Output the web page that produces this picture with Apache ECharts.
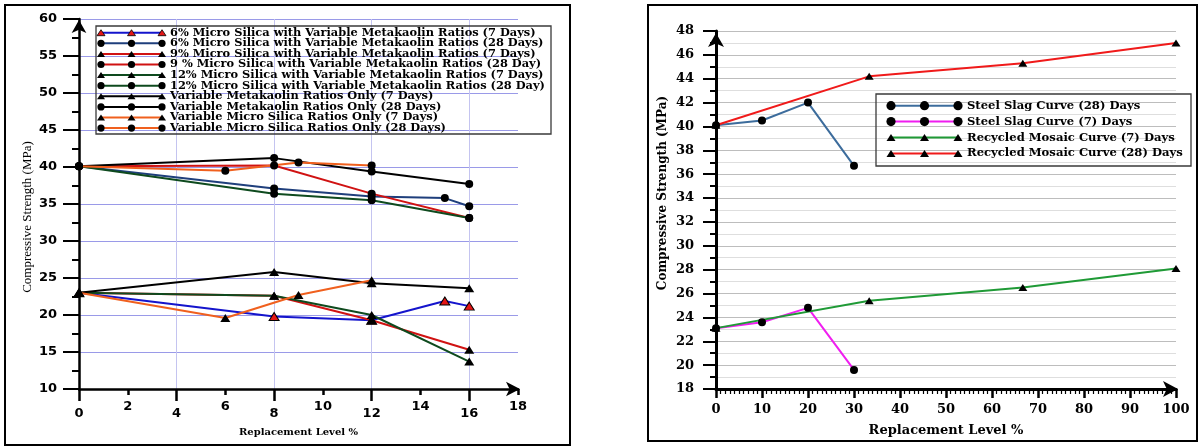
<!DOCTYPE html>
<html>
<head>
<meta charset="utf-8">
<script src="https://cdn.jsdelivr.net/npm/echarts@6/dist/echarts.min.js"></script>
<style>
  html, body { margin: 0; padding: 0; background: #ffffff; }
  #chart { width: 1201px; height: 448px; }
</style>
</head>
<body>
<div id="chart"></div>
<script>
// ---------- Left panel: micro silica / metakaolin mixes (strength in MPa) ----------
const levels6 = [0, 8, 12, 15, 16];
const ms6Day7 = [23.0, 19.8, 19.3, 21.9, 21.2];
const ms6Day28 = [40.1, 37.1, 36.0, 35.8, 34.7];

const levelsMK = [0, 8, 12, 16];
const ms9Day7 = [23.0, 22.6, 19.3, 15.3];
const ms9Day28 = [40.1, 40.2, 36.4, 33.1];
const ms12Day7 = [23.0, 22.6, 20.0, 13.7];
const ms12Day28 = [40.1, 36.4, 35.5, 33.1];
const mkOnlyDay7 = [23.0, 25.8, 24.3, 23.6];
const mkOnlyDay28 = [40.1, 41.2, 39.4, 37.7];

const levelsMS = [0, 6, 9, 12];
const msOnlyDay7 = [23.0, 19.6, 22.7, 24.7];
const msOnlyDay28 = [40.1, 39.5, 40.6, 40.2];

const leftNames = [
  '6% Micro Silica with Variable Metakaolin Ratios (7 Days)',
  '6% Micro Silica with Variable Metakaolin Ratios (28 Days)',
  '9% Micro Silica with Variable Metakaolin Ratios (7 Days)',
  '9 % Micro Silica with Variable Metakaolin Ratios (28 Day)',
  '12% Micro Silica with Variable Metakaolin Ratios (7 Days)',
  '12% Micro Silica with Variable Metakaolin Ratios (28 Day)',
  'Variable Metakaolin Ratios Only (7 Days)',
  'Variable Metakaolin Ratios Only (28 Days)',
  'Variable Micro Silica Ratios Only (7 Days)',
  'Variable Micro Silica Ratios Only (28 Days)'
];
const leftX = [levels6, levels6, levelsMK, levelsMK, levelsMK, levelsMK, levelsMK, levelsMK, levelsMS, levelsMS];
const leftY = [ms6Day7, ms6Day28, ms9Day7, ms9Day28, ms12Day7, ms12Day28, mkOnlyDay7, mkOnlyDay28, msOnlyDay7, msOnlyDay28];

// ---------- Right panel: steel slag / recycled mosaic ----------
const slagLevels = [0, 10, 20, 30];
const slagDay28 = [40.1, 40.5, 42.0, 36.7];
const slagDay7 = [23.1, 23.6, 24.8, 19.6];
const mosaicLevels = [0, 33.3, 66.7, 100];
const mosaicDay7 = [23.1, 25.4, 26.5, 28.1];
const mosaicDay28 = [40.1, 44.2, 45.3, 47.0];

const rightNames = [
  'Steel Slag Curve (28) Days',
  'Steel Slag Curve (7) Days',
  'Recycled Mosaic Curve (7) Days',
  'Recycled Mosaic Curve (28) Days'
];
const rightX = [slagLevels, slagLevels, mosaicLevels, mosaicLevels];
const rightY = [slagDay28, slagDay7, mosaicDay7, mosaicDay28];

// ---------- styling ----------
const leftStyle = [
  { line: '#1414cc', mark: 'triangle', fill: '#e41616' },
  { line: '#1f3f7c', mark: 'circle', fill: '#000000' },
  { line: '#d01212', mark: 'triangle', fill: '#000000' },
  { line: '#d01212', mark: 'circle', fill: '#000000' },
  { line: '#0e4a1e', mark: 'triangle', fill: '#000000' },
  { line: '#0e4a1e', mark: 'circle', fill: '#000000' },
  { line: '#000000', mark: 'triangle', fill: '#000000' },
  { line: '#000000', mark: 'circle', fill: '#000000' },
  { line: '#f0601e', mark: 'triangle', fill: '#000000' },
  { line: '#f0601e', mark: 'circle', fill: '#000000' }
];
const rightStyle = [
  { line: '#3c6c9c', mark: 'circle', fill: '#000000' },
  { line: '#f01ef0', mark: 'circle', fill: '#000000' },
  { line: '#1f9a36', mark: 'triangle', fill: '#000000' },
  { line: '#f01a1a', mark: 'triangle', fill: '#000000' }
];

const SERIF = '"DejaVu Serif", "Liberation Serif", serif';
const SANS = '"DejaVu Sans", "Liberation Sans", sans-serif';
const GRID_BLUE = '#9a9ae8';

function pairs(xs, ys) { return xs.map((x, i) => [x, ys[i]]); }

function makeSeries(names, xs, ys, styles, axisIndex, circleSize, triSize) {
  return names.map((name, i) => {
    const s = styles[i];
    return {
      name: name,
      type: 'line',
      xAxisIndex: axisIndex,
      yAxisIndex: axisIndex,
      data: pairs(xs[i], ys[i]),
      symbol: s.mark,
      symbolSize: s.mark === 'circle' ? circleSize : triSize,
      lineStyle: { color: s.line, width: 2 },
      itemStyle: {
        color: s.fill,
        borderColor: '#000000',
        borderWidth: s.fill === '#000000' ? 0 : 1
      },
      emphasis: { disabled: true },
      z: 3
    };
  });
}

// Legend swatches: a line with three markers followed by the entry text
function legendGraphics(names, styles, o) {
  const els = [];
  els.push({
    type: 'rect', silent: true, z: 10,
    shape: { x: o.bx, y: o.by, width: o.bw, height: o.bh },
    style: { fill: 'rgba(255,255,255,0)', stroke: '#3a3a3a', lineWidth: 1.3 }
  });
  names.forEach((name, i) => {
    const y = o.y0 + i * o.step;
    const s = styles[i];
    els.push({
      type: 'line', silent: true, z: 10,
      shape: { x1: o.x0, y1: y, x2: o.x0 + o.w, y2: y },
      style: { stroke: s.line, lineWidth: 2 }
    });
    [0, 0.5, 1].forEach(f => {
      const cx = o.x0 + f * o.w;
      if (s.mark === 'circle') {
        els.push({ type: 'circle', silent: true, z: 11, shape: { cx: cx, cy: y, r: o.r }, style: { fill: s.fill } });
      } else {
        els.push({
          type: 'polygon', silent: true, z: 11,
          shape: { points: [[cx - o.tw / 2, y + o.th / 2], [cx + o.tw / 2, y + o.th / 2], [cx, y - o.th / 2]] },
          style: { fill: s.fill, stroke: '#000000', lineWidth: s.fill === '#000000' ? 0 : 0.8 }
        });
      }
    });
    els.push({
      type: 'text', silent: true, z: 11, x: o.tx, y: y,
      style: { text: name, font: o.font, fill: '#000000', align: 'left', verticalAlign: 'middle' }
    });
  });
  return els;
}

const leftGrid = { left: 79, top: 19, width: 439, height: 370 };
const rightGrid = { left: 716, top: 31, width: 460, height: 358 };

const option = {
  animation: false,
  backgroundColor: '#ffffff',
  grid: [
    leftGrid,
    { left: 79, top: 19, width: 439 * 16 / 18, height: 370 },
    rightGrid
  ],
  xAxis: [
    {
      gridIndex: 0, type: 'value', min: 0, max: 18, interval: 2,
      axisLine: {
        onZero: false, symbol: ['none', 'arrow'], symbolSize: [11, 14], symbolOffset: [0, 2],
        lineStyle: { color: '#000000', width: 2.5 }
      },
      axisTick: { length: 6, lineStyle: { color: '#000000', width: 2.5 } },
      splitLine: { show: false },
      axisLabel: {
        margin: 11,
        formatter: v => (v % 4 === 0 ? '{lo|' + v + '}' : '{hi|' + v + '}'),
        rich: {
          lo: { fontFamily: SANS, fontWeight: 'bold', fontSize: 13, color: '#000', padding: [7, 0, 0, 0] },
          hi: { fontFamily: SANS, fontWeight: 'bold', fontSize: 13, color: '#000' }
        }
      },
      name: 'Replacement Level %', nameLocation: 'middle', nameGap: 38,
      nameTextStyle: { fontFamily: SERIF, fontWeight: 'bold', fontSize: 10, color: '#000' }
    },
    {
      gridIndex: 1, type: 'value', min: 0, max: 16, interval: 4,
      axisLine: { show: false },
      axisTick: { length: 12, lineStyle: { color: '#000000', width: 2.5 } },
      axisLabel: { show: false },
      splitLine: { show: true, lineStyle: { color: '#c4c4f0', width: 1 } }
    },
    {
      gridIndex: 2, type: 'value', min: 0, max: 100, interval: 10,
      axisLine: {
        onZero: false, symbol: ['none', 'arrow'], symbolSize: [12, 15], symbolOffset: [0, 2],
        lineStyle: { color: '#000000', width: 3 }
      },
      axisTick: { length: 9, lineStyle: { color: '#000000', width: 2.5 } },
      minorTick: { show: true, splitNumber: 10, length: 5, lineStyle: { color: '#000000', width: 1.2 } },
      splitLine: { show: false },
      axisLabel: { margin: 14, fontFamily: SERIF, fontWeight: 'bold', fontSize: 13, color: '#000' },
      name: 'Replacement Level %', nameLocation: 'middle', nameGap: 35,
      nameTextStyle: { fontFamily: SERIF, fontWeight: 'bold', fontSize: 13, color: '#000' }
    }
  ],
  yAxis: [
    {
      gridIndex: 0, type: 'value', min: 10, max: 60, interval: 5,
      axisLine: {
        onZero: false, symbol: ['none', 'arrow'], symbolSize: [11, 13], symbolOffset: [0, -1],
        lineStyle: { color: '#000000', width: 2.5 }
      },
      axisTick: { length: 16, lineStyle: { color: '#000000', width: 2 } },
      minorTick: { show: true, splitNumber: 2, length: 7, lineStyle: { color: '#000000', width: 2 } },
      splitLine: { show: true, lineStyle: { color: GRID_BLUE, width: 1 } },
      axisLabel: { margin: 22, fontFamily: SANS, fontWeight: 'bold', fontSize: 13, color: '#000' },
      name: 'Compressive Strength (MPa)', nameLocation: 'middle', nameGap: 45,
      nameTextStyle: { fontFamily: '"Liberation Serif", serif', fontSize: 13, color: '#000', padding: [0, 26, 0, 0] }
    },
    {
      gridIndex: 1, type: 'value', min: 10, max: 60, show: false
    },
    {
      gridIndex: 2, type: 'value', min: 18, max: 48, interval: 2,
      axisLine: {
        onZero: false, symbol: ['none', 'arrow'], symbolSize: [12, 14], symbolOffset: [0, -2],
        lineStyle: { color: '#000000', width: 3 }
      },
      axisTick: { length: 13, lineStyle: { color: '#000000', width: 2 } },
      minorTick: { show: true, splitNumber: 2, length: 6, lineStyle: { color: '#000000', width: 2 } },
      splitLine: { show: true, lineStyle: { color: '#bdbdbd', width: 1 } },
      minorSplitLine: { show: true, lineStyle: { color: '#dedede', width: 1 } },
      axisLabel: { margin: 22, fontFamily: SERIF, fontWeight: 'bold', fontSize: 13, color: '#000' },
      name: 'Compressive Strength (MPa)', nameLocation: 'middle', nameGap: 47,
      nameTextStyle: { fontFamily: SERIF, fontWeight: 'bold', fontSize: 12, color: '#000', padding: [0, 0, 0, 34] }
    }
  ],
  series: [
    ...makeSeries(leftNames, leftX, leftY, leftStyle, 0, 8, [10, 8]),
    ...makeSeries(rightNames, rightX, rightY, rightStyle, 2, 8, [9, 7])
  ],
  graphic: [
    // panel frames
    { type: 'rect', silent: true, z: 0, shape: { x: 5, y: 5, width: 565, height: 440 },
      style: { fill: 'none', stroke: '#000000', lineWidth: 2 } },
    { type: 'rect', silent: true, z: 0, shape: { x: 648, y: 5, width: 549, height: 436 },
      style: { fill: 'none', stroke: '#000000', lineWidth: 2 } },
    ...legendGraphics(leftNames, leftStyle, {
      bx: 96, by: 26, bw: 455, bh: 108,
      x0: 101, w: 61, y0: 32.7, step: 10.6, tx: 170,
      r: 3.6, tw: 8, th: 6,
      font: 'bold 11.4px ' + SERIF
    }),
    ...legendGraphics(rightNames, rightStyle, {
      bx: 876, by: 94, bw: 315, bh: 72,
      x0: 891, w: 67, y0: 105.7, step: 15.9, tx: 967,
      r: 4.6, tw: 9, th: 7,
      font: 'bold 11.6px ' + SERIF
    })
  ]
};

const chart = echarts.init(document.getElementById('chart'), null, { renderer: 'canvas' });
chart.setOption(option);
</script>
</body>
</html>
